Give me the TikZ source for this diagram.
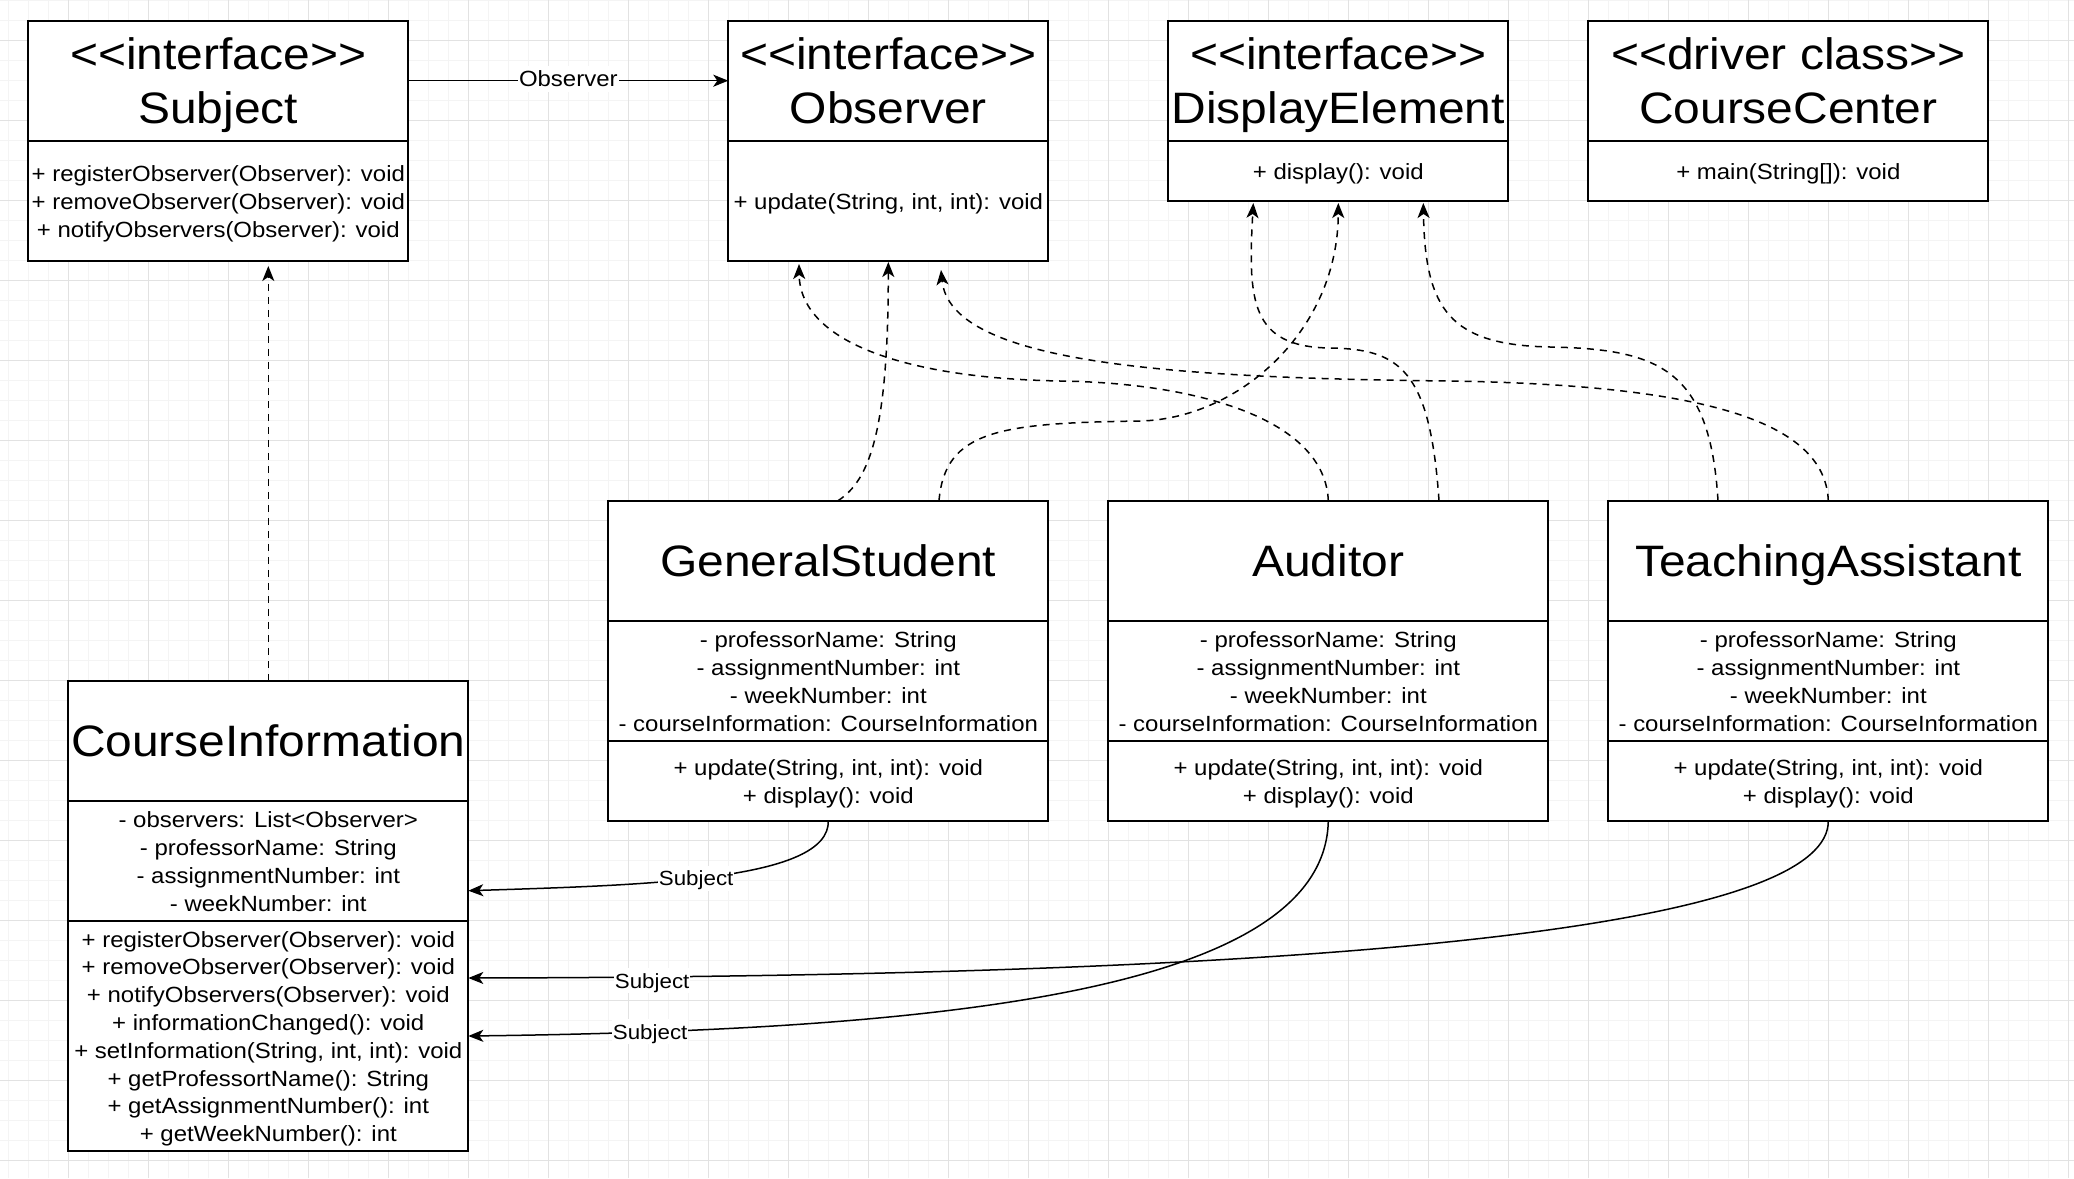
\documentclass[tikz,border=0pt]{standalone}
\usepackage{fontspec}
\setmainfont{Liberation Sans}[FakeStretch=1.09]
\usetikzlibrary{arrows.meta,calc}
\definecolor{gridmin}{RGB}{244,244,244}
\definecolor{gridmaj}{RGB}{226,226,226}
\newcommand\stereo[1]{<\kern0pt<#1>\kern0pt>}
\newcommand\titlef{\fontsize{44}{54}\selectfont}
\newcommand\bodyf{\fontsize{22}{27.8}\selectfont}
\newcommand\lblf{\fontsize{20.5}{23}\selectfont}
\newcommand\lblbigf{\fontsize{22}{25}\selectfont}
\newcommand\hdtop{\rule{0pt}{42.6pt}}
\newcommand\hdbot{\rule[-11.4pt]{0pt}{11.4pt}}
\newcommand\bdtop{\rule{0pt}{22.5pt}}
\newcommand\bdbot{\rule[-5.3pt]{0pt}{5.3pt}}
\begin{document}
\begin{tikzpicture}[x=1pt,y=-1pt,
  box/.style={draw=black, line width=2pt, fill=white, inner sep=0pt, outer sep=0pt, align=center},
  hdr/.style={box, font=\titlef},
  cmp/.style={box, font=\bodyf},
  gmin/.style={draw=gridmin, line width=1.5pt},
  gmaj/.style={draw=gridmaj, line width=1.5pt},
  tipstyle/.style={-{Stealth[length=15pt,width=12pt,inset=4pt]}},
  assoc/.style={draw=black, line width=1.5pt, tipstyle},
  realize/.style={draw=black, line width=1.5pt, dash pattern=on 7pt off 6pt, tipstyle},
  lbl/.style={fill=white, inner sep=1pt, font=\lblf, text=black, text height=18.8pt, text depth=4pt}
]
\fill[white] (0,0) rectangle (2074,1178);
\useasboundingbox (0,0) rectangle (2074,1178);
% grid
\foreach \i in {0,...,103} { \draw[gmin] ({8.3+20*\i},0) -- ({8.3+20*\i},1178); }
\foreach \j in {0,...,58} { \draw[gmin] (0,{0.7+20*\j}) -- (2074,{0.7+20*\j}); }
\foreach \i in {0,...,25} { \draw[gmaj] ({68.3+80*\i},0) -- ({68.3+80*\i},1178); }
\foreach \j in {0,...,14} { \draw[gmaj] (0,{40.7+80*\j}) -- (2074,{40.7+80*\j}); }

% Subject
\node[hdr, minimum width=380pt, minimum height=120pt, anchor=north west] (subjH) at (28.3,20.7) {\hdtop\stereo{interface}\\Subject\hdbot};
\node[cmp, minimum width=380pt, minimum height=120pt, anchor=north] (subjB) at (subjH.south) {\bdtop+ registerObserver(Observer): void\\+ removeObserver(Observer): void\\+ notifyObservers(Observer): void\bdbot};

% Observer
\node[hdr, minimum width=320pt, minimum height=120pt, anchor=north west] (obsH) at (728.3,20.7) {\hdtop\stereo{interface}\\Observer\hdbot};
\node[cmp, minimum width=320pt, minimum height=120pt, anchor=north] (obsB) at (obsH.south) {\bdtop+ update(String, int, int): void\bdbot};

% DisplayElement
\node[hdr, minimum width=340pt, minimum height=120pt, anchor=north west] (deH) at (1168.3,20.7) {\hdtop\stereo{interface}\\DisplayElement\hdbot};
\node[cmp, minimum width=340pt, minimum height=60pt, anchor=north] (deB) at (deH.south) {\bdtop+ display(): void\bdbot};

% CourseCenter
\node[hdr, minimum width=400pt, minimum height=120pt, anchor=north west] (ccH) at (1588.3,20.7) {\hdtop\stereo{driver class}\\CourseCenter\hdbot};
\node[cmp, minimum width=400pt, minimum height=60pt, anchor=north] (ccB) at (ccH.south) {\bdtop+ main(String[]): void\bdbot};

% GeneralStudent
\node[hdr, minimum width=440pt, minimum height=120pt, anchor=north west] (gsH) at (608.3,500.7) {\hdtop GeneralStudent\hdbot};
\node[cmp, minimum width=440pt, minimum height=120pt, anchor=north] (gsA) at (gsH.south) {\bdtop- professorName: String\\- assignmentNumber: int\\- weekNumber: int\\- courseInformation: CourseInformation\bdbot};
\node[cmp, minimum width=440pt, minimum height=80pt, anchor=north] (gsM) at (gsA.south) {\bdtop+ update(String, int, int): void\\+ display(): void\bdbot};

% Auditor
\node[hdr, minimum width=440pt, minimum height=120pt, anchor=north west] (audH) at (1108.3,500.7) {\hdtop Auditor\hdbot};
\node[cmp, minimum width=440pt, minimum height=120pt, anchor=north] (audA) at (audH.south) {\bdtop- professorName: String\\- assignmentNumber: int\\- weekNumber: int\\- courseInformation: CourseInformation\bdbot};
\node[cmp, minimum width=440pt, minimum height=80pt, anchor=north] (audM) at (audA.south) {\bdtop+ update(String, int, int): void\\+ display(): void\bdbot};

% TeachingAssistant
\node[hdr, minimum width=440pt, minimum height=120pt, anchor=north west] (taH) at (1608.3,500.7) {\hdtop TeachingAssistant\hdbot};
\node[cmp, minimum width=440pt, minimum height=120pt, anchor=north] (taA) at (taH.south) {\bdtop- professorName: String\\- assignmentNumber: int\\- weekNumber: int\\- courseInformation: CourseInformation\bdbot};
\node[cmp, minimum width=440pt, minimum height=80pt, anchor=north] (taM) at (taA.south) {\bdtop+ update(String, int, int): void\\+ display(): void\bdbot};

% CourseInformation
\node[hdr, minimum width=400pt, minimum height=120pt, anchor=north west] (ciH) at (68.3,680.7) {\hdtop CourseInformation\hdbot};
\node[cmp, minimum width=400pt, minimum height=120pt, anchor=north] (ciA) at (ciH.south) {\bdtop- observers: List<Observer>\\- professorName: String\\- assignmentNumber: int\\- weekNumber: int\bdbot};
\node[cmp, minimum width=400pt, minimum height=230pt, anchor=north] (ciM) at (ciA.south) {\bdtop+ registerObserver(Observer): void\\+ removeObserver(Observer): void\\+ notifyObservers(Observer): void\\+ informationChanged(): void\\+ setInformation(String, int, int): void\\+ getProfessortName(): String\\+ getAssignmentNumber(): int\\+ getWeekNumber(): int\bdbot};

% connector end points
\coordinate (subjIn) at (268.3,266);
\coordinate (obsIn1) at (799,264);
\coordinate (obsIn2) at (888.3,262);
\coordinate (obsIn3) at (941,270);
\coordinate (deIn1) at (1253.3,203);
\coordinate (deIn2) at (1338.3,203);
\coordinate (deIn3) at (1423.3,203);
\coordinate (ciIn1) at (468.3,890.7);
\coordinate (ciIn2) at (468.3,978);
\coordinate (ciIn3) at (468.3,1036);
\coordinate (gsOut1) at (838,500.7);
\coordinate (gsOut2) at (939,500.7);
\coordinate (audOut2) at (1439,500.7);
\coordinate (taOut1) at (1718,500.7);

% Subject -> Observer
\draw[assoc] (subjH.east) -- node[lbl, font=\lblbigf, text height=19.8pt, yshift=2pt] {Observer} (obsH.west);

% CourseInformation realizes Subject
\draw[realize] (ciH.north) -- (subjIn);

% realizations to Observer
\draw[realize] (gsOut1) .. controls (870,480) and (888.3,430) .. (obsIn2);
\draw[realize] (audH.north) .. controls (1325,420) and (1200,383) .. (1060,381) .. controls (900,378) and (800,340) .. (obsIn1);
\draw[realize] (taH.north) .. controls (1825,420) and (1700,385) .. (1450,381) .. controls (1150,378) and (950,360) .. (obsIn3);

% realizations to DisplayElement
\draw[realize] (gsOut2) .. controls (945,430) and (1000,423) .. (1141,421) .. controls (1240,418) and (1338,330) .. (deIn2);
\draw[realize] (audOut2) .. controls (1430,370) and (1400,349) .. (1330,348) .. controls (1250,347) and (1248,300) .. (deIn1);
\draw[realize] (taOut1) .. controls (1710,370) and (1660,349) .. (1550,347) .. controls (1450,345) and (1425,310) .. (deIn3);

% Subject associations
\draw[assoc] (gsM.south) .. controls (830,880) and (650,885) .. node[lbl, pos=0.55] {Subject} (ciIn1);
\draw[assoc] (taM.south) .. controls (1829,915) and (1450,976) .. node[lbl, pos=0.935, yshift=-4pt] {Subject} (ciIn2);
\draw[assoc] (audM.south) .. controls (1325,990) and (950,1030) .. node[lbl, pos=0.87] {Subject} (ciIn3);
\end{tikzpicture}
\end{document}
